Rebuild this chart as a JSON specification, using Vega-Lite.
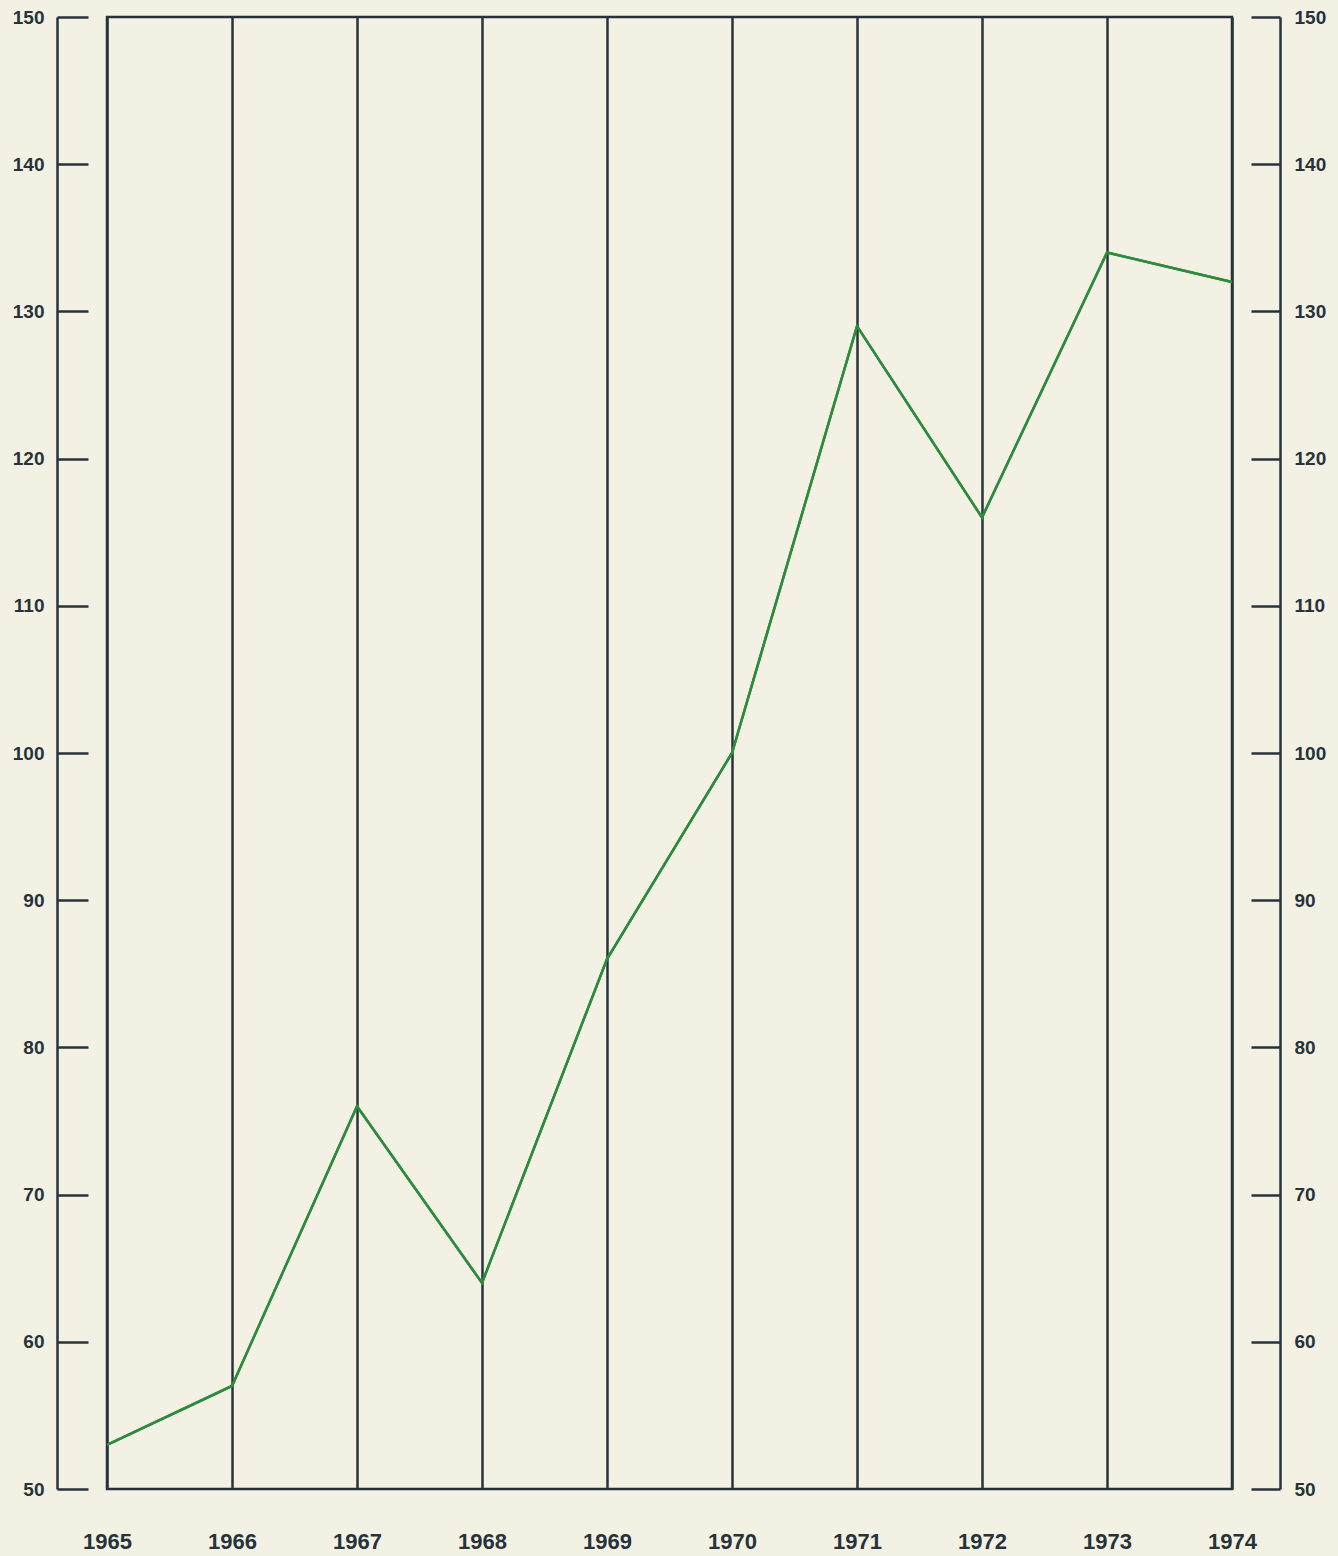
{
  "$schema": "https://vega.github.io/schema/vega-lite/v6.json",
  "autosize": "none",
  "width": 1125,
  "height": 1472,
  "padding": {"left": 107, "top": 17, "right": 106, "bottom": 67},
  "background": "#f3f1e4",
  "config": {
    "view": {"stroke": "#27333b", "strokeWidth": 2.5},
    "axis": {"labelFont": "Liberation Sans", "labelFontWeight": "bold", "labelColor": "#27333b"}
  },
  "data": {
    "values": [
      {"year": 1965, "value": 53},
      {"year": 1966, "value": 57},
      {"year": 1967, "value": 76},
      {"year": 1968, "value": 64},
      {"year": 1969, "value": 86},
      {"year": 1970, "value": 100},
      {"year": 1971, "value": 129},
      {"year": 1972, "value": 116},
      {"year": 1973, "value": 134},
      {"year": 1974, "value": 132}
    ]
  },
  "encoding": {
    "x": {
      "field": "year",
      "type": "quantitative",
      "scale": {"domain": [1965, 1974], "nice": false, "zero": false},
      "axis": {
        "title": null,
        "values": [1965, 1966, 1967, 1968, 1969, 1970, 1971, 1972, 1973, 1974],
        "format": "d",
        "grid": true,
        "gridColor": "#27333b",
        "gridWidth": 2.5,
        "gridOpacity": 1,
        "domain": false,
        "ticks": false,
        "labelFlush": false,
        "labelOverlap": false,
        "labelPadding": 42,
        "labelFontSize": 22,
        "labelDx": -3
      }
    }
  },
  "layer": [
    {
      "mark": {"type": "line", "color": "#2e8b3e", "strokeWidth": 2.5},
      "encoding": {
        "y": {
          "field": "value",
          "type": "quantitative",
          "scale": {"domain": [50, 150], "nice": false, "zero": false},
          "axis": {
            "orient": "left",
            "title": null,
            "values": [50, 60, 70, 80, 90, 100, 110, 120, 130, 140, 150],
            "grid": false,
            "offset": 50,
            "domainColor": "#27333b",
            "domainWidth": 2.5,
            "tickColor": "#27333b",
            "tickWidth": 2.5,
            "tickSize": -31,
            "labelPadding": 44,
            "labelFlush": false,
            "labelOverlap": false,
            "labelFontSize": 19
          }
        }
      }
    },
    {
      "mark": {"type": "line", "color": "#2e8b3e", "strokeWidth": 2.5},
      "encoding": {
        "y": {
          "field": "value",
          "type": "quantitative",
          "scale": {"domain": [50, 150], "nice": false, "zero": false},
          "axis": {
            "orient": "right",
            "title": null,
            "values": [50, 60, 70, 80, 90, 100, 110, 120, 130, 140, 150],
            "grid": false,
            "offset": 48,
            "domainColor": "#27333b",
            "domainWidth": 2.5,
            "tickColor": "#27333b",
            "tickWidth": 2.5,
            "tickSize": -29,
            "labelPadding": 43,
            "labelFlush": false,
            "labelOverlap": false,
            "labelFontSize": 19
          }
        }
      }
    }
  ],
  "resolve": {"axis": {"y": "independent"}}
}
